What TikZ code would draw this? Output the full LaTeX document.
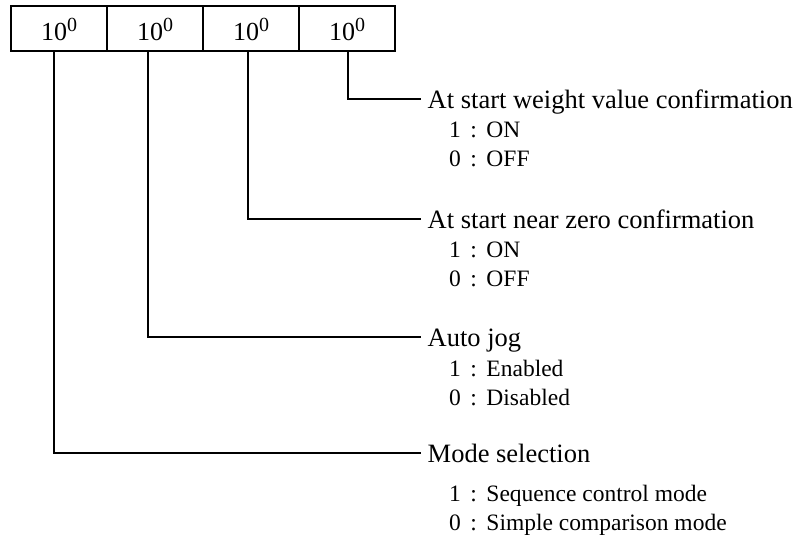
\documentclass[tikz,border=0pt]{standalone}
\usepackage{fontspec}
\setmainfont{Liberation Serif}
\newcommand{\tenzero}{10\raisebox{9pt}{\fontsize{20}{20}\selectfont 0}}
\newcommand{\optline}[2]{#1\hspace{9.5pt}:\hspace{9.5pt}#2}
\begin{document}
\begin{tikzpicture}[x=1pt,y=-1pt,
  cell/.style={draw, line width=1.7pt, minimum width=96pt, minimum height=45pt, inner sep=0pt, text height=23pt, text depth=0pt, font=\fontsize{26}{30}\selectfont},
  head/.style={anchor=west, inner xsep=6.5pt, inner ysep=0pt, text height=20pt, text depth=2pt, font=\fontsize{26.5}{30}\selectfont},
  opt/.style={anchor=base west, inner sep=0pt, font=\fontsize{23.5}{28}\selectfont},
  conn/.style={line width=1.7pt}]
\useasboundingbox (0,0) rectangle (799,546);
\node[cell] (c1) at (59,28.5) {\tenzero};
\node[cell] (c2) at (155,28.5) {\tenzero};
\node[cell] (c3) at (251,28.5) {\tenzero};
\node[cell] (c4) at (347,28.5) {\tenzero};

\node[head] (h1) at (421,99) {At start weight value confirmation};
\node[opt] (o11) at (449,137) {\optline{1}{ON}};
\node[opt] (o10) at (449,166) {\optline{0}{OFF}};

\node[head] (h2) at (421,219) {At start near zero confirmation};
\node[opt] (o21) at (449,257) {\optline{1}{ON}};
\node[opt] (o20) at (449,286) {\optline{0}{OFF}};

\node[head] (h3) at (421,337) {Auto jog};
\node[opt] (o31) at (449,376) {\optline{1}{Enabled}};
\node[opt] (o30) at (449,405) {\optline{0}{Disabled}};

\node[head] (h4) at (421,453) {Mode selection};
\node[opt] (o41) at (449,501) {\optline{1}{Sequence control mode}};
\node[opt] (o40) at (449,530) {\optline{0}{Simple comparison mode}};

\draw[conn] ([xshift=1pt]c4.south) |- (h1.west);
\draw[conn] ([xshift=-3pt]c3.south) |- (h2.west);
\draw[conn] ([xshift=-7pt]c2.south) |- (h3.west);
\draw[conn] ([xshift=-5pt]c1.south) |- (h4.west);
\end{tikzpicture}
\end{document}
